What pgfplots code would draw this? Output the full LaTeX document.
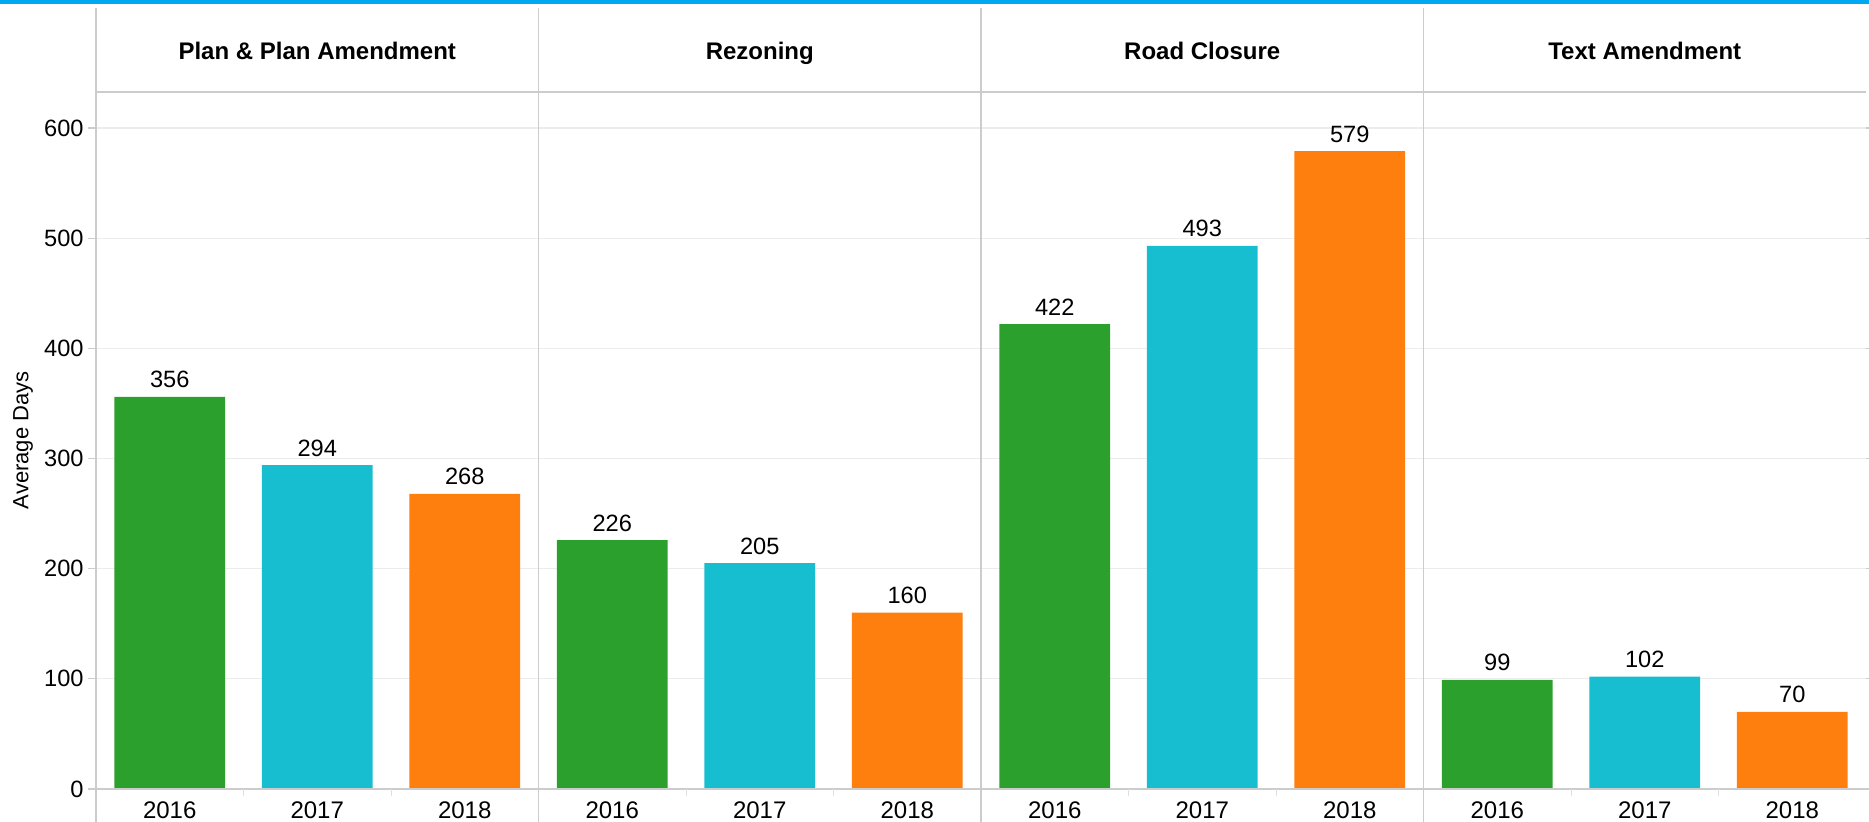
\documentclass[border=0pt]{standalone}
\usepackage{fontspec}
\setmainfont{Liberation Sans}
\usepackage{pgfplots}
\pgfplotsset{compat=1.18}
\definecolor{cgreen}{RGB}{44,160,44}
\definecolor{ccyan}{RGB}{23,190,207}
\definecolor{corange}{RGB}{255,127,14}
\definecolor{topblue}{RGB}{0,168,244}
\definecolor{divgray}{RGB}{204,204,204}
\definecolor{gridgray}{RGB}{236,236,236}
\begin{document}
\begin{tikzpicture}
\path[use as bounding box] (-48pt,-16.5pt) rectangle (886.5pt,394.5pt);
\begin{axis}[
  at={(0,0)}, anchor=south west,
  scale only axis, width=885pt, height=348.65pt,
  xmin=0, xmax=12, ymin=0, ymax=633,
  clip=false,
  axis line style={draw=none},
  ybar, bar shift=0pt, bar width=0.75,
  xtick={0.5,1.5,...,11.5},
  xticklabels={2016,2017,2018,2016,2017,2018,2016,2017,2018,2016,2017,2018},
  ytick={0,100,...,600},
  tick align=outside, major tick length=4pt,
  xtick style={draw=none},
  ytick style={draw=divgray, line width=0.6pt},
  ymajorgrids, major grid style={gridgray, line width=0.6pt},
  /pgf/number format/assume math mode=true,
  xticklabel style={font=\fontsize{12}{14}\selectfont, inner sep=0pt, anchor=north, yshift=-2.3pt},
  yticklabel style={font=\fontsize{11.8}{14}\selectfont, inner sep=0pt, anchor=east, xshift=-2pt},
  ylabel={Average Days},
  ylabel style={at={([xshift=-36.5pt]axis description cs:0,0.5)}, anchor=center, font=\fontsize{11}{13}\selectfont},
  nodes near coords,
  every node near coord/.append style={font=\fontsize{11.8}{14}\selectfont, anchor=base, inner sep=0pt, yshift=4.5pt, text=black},
]
\addplot[fill=cgreen, draw=none] coordinates {(0.5,356) (3.5,226) (6.5,422) (9.5,99)};
\addplot[fill=ccyan, draw=none] coordinates {(1.5,294) (4.5,205) (7.5,493) (10.5,102)};
\addplot[fill=corange, draw=none] coordinates {(2.5,268) (5.5,160) (8.5,579) (11.5,70)};
% panel frame
\draw[divgray, line width=0.75pt] ([yshift=-16.5pt]axis cs:0,0) -- ([yshift=41.85pt]axis cs:0,633);
\draw[divgray, line width=0.75pt] ([yshift=-16.5pt]axis cs:3,0) -- ([yshift=41.85pt]axis cs:3,633);
\draw[divgray, line width=0.75pt] ([yshift=-16.5pt]axis cs:6,0) -- ([yshift=41.85pt]axis cs:6,633);
\draw[divgray, line width=0.75pt] ([yshift=-16.5pt]axis cs:9,0) -- ([yshift=41.85pt]axis cs:9,633);
\draw[divgray, line width=0.9pt] (axis cs:0,633) -- (axis cs:12,633);
\draw[divgray, line width=0.75pt] (axis cs:0,0) -- (axis cs:12,0);
\draw[divgray!60, line width=0.5pt] (axis cs:1,0) -- ([yshift=-3.5pt]axis cs:1,0);
\draw[divgray!60, line width=0.5pt] (axis cs:2,0) -- ([yshift=-3.5pt]axis cs:2,0);
\draw[divgray!60, line width=0.5pt] (axis cs:4,0) -- ([yshift=-3.5pt]axis cs:4,0);
\draw[divgray!60, line width=0.5pt] (axis cs:5,0) -- ([yshift=-3.5pt]axis cs:5,0);
\draw[divgray!60, line width=0.5pt] (axis cs:7,0) -- ([yshift=-3.5pt]axis cs:7,0);
\draw[divgray!60, line width=0.5pt] (axis cs:8,0) -- ([yshift=-3.5pt]axis cs:8,0);
\draw[divgray!60, line width=0.5pt] (axis cs:10,0) -- ([yshift=-3.5pt]axis cs:10,0);
\draw[divgray!60, line width=0.5pt] (axis cs:11,0) -- ([yshift=-3.5pt]axis cs:11,0);
% top bar
\fill[topblue] ([xshift=-48pt,yshift=43.85pt]axis cs:0,633) rectangle ([xshift=1.5pt,yshift=45.85pt]axis cs:12,633);
% headers
\node[font=\bfseries\fontsize{12}{14}\selectfont, anchor=base] at ([yshift=16.1pt]axis cs:1.5,633) {Plan \& Plan Amendment};
\node[font=\bfseries\fontsize{12}{14}\selectfont, anchor=base] at ([yshift=16.1pt]axis cs:4.5,633) {Rezoning};
\node[font=\bfseries\fontsize{12}{14}\selectfont, anchor=base] at ([yshift=16.1pt]axis cs:7.5,633) {Road Closure};
\node[font=\bfseries\fontsize{12}{14}\selectfont, anchor=base] at ([yshift=16.1pt]axis cs:10.5,633) {Text Amendment};
\end{axis}
\end{tikzpicture}
\end{document}
